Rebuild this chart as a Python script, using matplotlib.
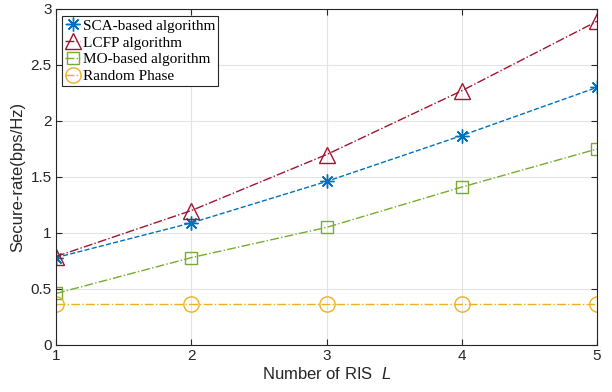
import numpy as np
import matplotlib
matplotlib.use('Agg')
import matplotlib.pyplot as plt

plt.rcParams['font.family'] = 'Liberation Sans'
plt.rcParams['mathtext.fontset'] = 'custom'
plt.rcParams['mathtext.it'] = 'Liberation Sans:italic'

# secure rate vs number of RIS
L = [1, 2, 3, 4, 5]
sca = [0.78, 1.09, 1.46, 1.87, 2.30]
lcfp = [0.79, 1.20, 1.70, 2.27, 2.89]
mo = [0.46, 0.78, 1.05, 1.41, 1.75]
rnd = [0.37, 0.37, 0.37, 0.37, 0.37]

W, H = 612, 392
fig = plt.figure(figsize=(W / 100, H / 100), dpi=100)
ax = fig.add_axes([56 / W, 1 - 345 / H, 541 / W, 336 / H])

ax.plot(L, sca, '--', color='#0072BD', marker=(8, 2, 0), ms=10, mew=1.0, lw=1.0,
        label='SCA-based algorithm')
ax.plot(L, lcfp, '-.', color='#A2142F', marker='^', ms=12, mfc='none', mew=1.0, lw=1.0,
        label='LCFP algorithm')
ax.plot(L, mo, '-.', color='#77AC30', marker='s', ms=8, mfc='none', mew=1.0, lw=1.0,
        label='MO-based algorithm')
ax.plot(L, rnd, '-.', color='#EDB120', marker='o', ms=11, mfc='none', mew=1.0, lw=1.0,
        label='Random Phase')

ax.set_xlim(1, 5)
ax.set_ylim(0, 3)
ax.set_xticks(L)
ax.set_yticks([0, 0.5, 1, 1.5, 2, 2.5, 3])
ax.set_yticklabels(['0', '0.5', '1', '1.5', '2', '2.5', '3'])
ax.grid(True, color='#e3e3e3', lw=0.8)
ax.tick_params(direction='in', top=True, right=True, labelsize=11, colors='#262626',
               length=4, width=0.8, pad=3)
for s in ax.spines.values():
    s.set_color('#262626')
    s.set_linewidth(0.8)

ax.set_xlabel('Number of RIS  $\\mathit{L}$', fontsize=12, color='#262626', labelpad=2)
ax.set_ylabel('Secure-rate(bps/Hz)', fontsize=12, color='#262626', labelpad=4)

leg = ax.legend(loc='upper left', bbox_to_anchor=(6 / 541, 1 - 7 / 336),
                prop={'family': 'Liberation Serif', 'size': 11},
                fancybox=False, edgecolor='#262626', framealpha=1,
                handlelength=1.0, handletextpad=0.15, borderpad=0.2,
                labelspacing=0.2, borderaxespad=0)
leg.get_frame().set_linewidth(0.8)

fig.savefig('out.png', dpi=100)
